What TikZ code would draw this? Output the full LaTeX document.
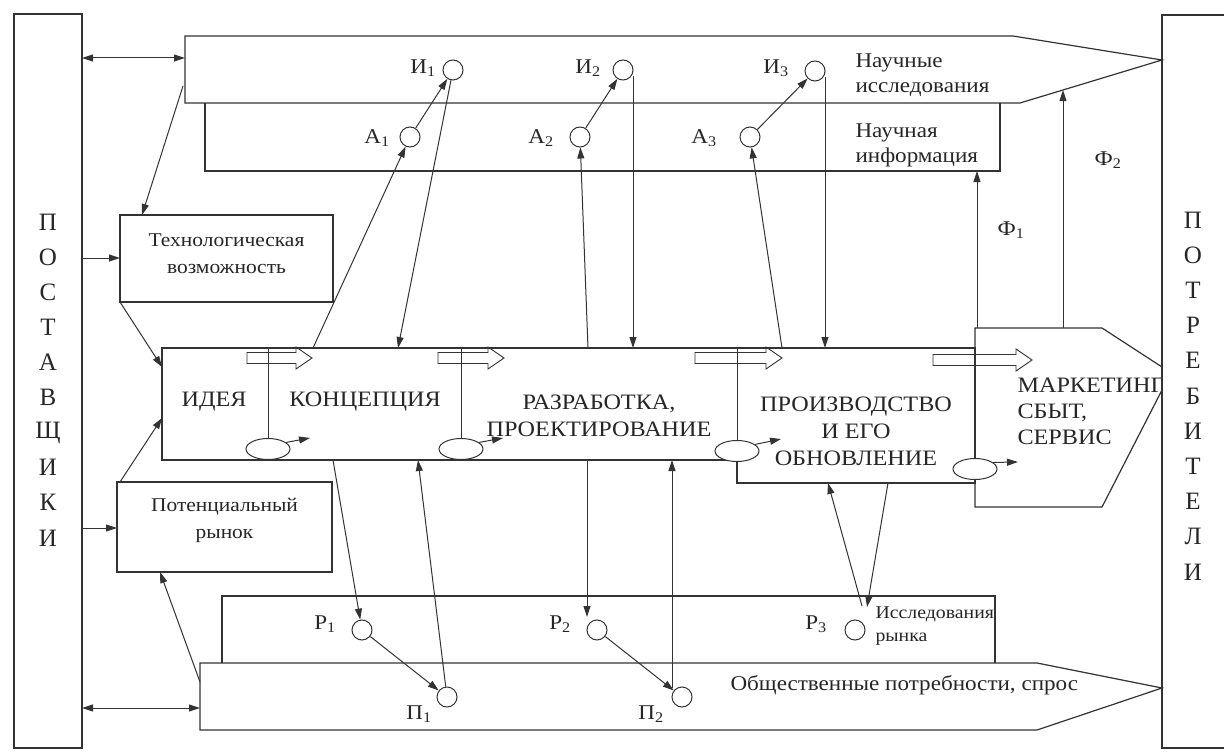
\documentclass[tikz,border=0pt]{standalone}
\usepackage{fontspec}
\setmainfont[FakeStretch=1.1]{Liberation Serif}
\newfontfamily\letterfont{Liberation Serif}
\usetikzlibrary{arrows.meta,shapes.geometric,calc}
\newcommand\hollowarr[3]{\draw[ln,line width=0.9pt] (#1,#3-5.5) -- (#2-16,#3-5.5) -- (#2-16,#3-11) -- (#2,#3) -- (#2-16,#3+11) -- (#2-16,#3+5.5) -- (#1,#3+5.5) -- cycle;}
\begin{document}
\begin{tikzpicture}[x=1pt,y=-1pt,
  ln/.style={draw=black!80,line width=1.2pt},
  arr/.style={draw=black!80,line width=1pt,-{Triangle[length=11pt,width=7pt]}},
  darr/.style={draw=black!80,line width=1pt,{Triangle[length=11pt,width=7pt]}-{Triangle[length=11pt,width=7pt]}},
  box/.style={draw=black!80,line width=1.2pt,rectangle,inner sep=0pt},
  circ/.style={circle,draw=black!80,line width=1pt,minimum size=20pt,inner sep=0pt},
  ell/.style={ellipse,draw=black!80,line width=1pt,minimum width=44pt,minimum height=21pt,inner sep=0pt,fill=white},
  big/.style={font=\fontsize{22}{27}\selectfont, align=center, text=black!85},
  mid/.style={font=\fontsize{19.5}{27}\selectfont, align=center, text=black!85},
  side/.style={font=\fontsize{21}{25}\selectfont, align=left, anchor=west, text=black!85},
  lab/.style={font=\fontsize{21}{24}\selectfont, text=black!85},
  letter/.style={font=\letterfont\fontsize{25}{30}\selectfont, text=black!85},
]
\fill[white] (0,0) rectangle (1224,752);
\useasboundingbox (0,0) rectangle (1224,752);

% suppliers / consumers
\node[box, minimum width=68pt, minimum height=734pt] (sup) at (48,381) {};
\foreach \l [count=\i from 0] in {П,О,С,Т,А,В,Щ,И,К,И}
  \node[letter] (s\i) at (48,222+35.1*\i) {\l};
\draw[ln] (1224,15) -- (1162,15) -- (1162,748) -- (1224,748);
\coordinate (con) at (1162,380);
\foreach \l [count=\i from 0] in {П,О,Т,Р,Е,Б,И,Т,Е,Л,И}
  \node[letter] (c\i) at (1193,220+35.2*\i) {\l};

% top: research pentagon and scientific information
\draw[ln] (185,36) -- (1013,36) -- (1162,60) -- (1020,103) -- (185,103) -- cycle;
\coordinate (res) at (600,70);
\draw[ln] (205,103) -- (205,171) -- (1000,171) -- (1000,103);
\node[side] (restxt) at (852,75) {Научные\\исследования};
\node[side] (inftxt) at (852,145) {Научная\\информация};

% left boxes
\node[box, minimum width=213pt, minimum height=87pt] (tech) at (226.5,258.5) {};
\node[mid] at (226.5,254) {Технологическая\\возможность};
\node[box, minimum width=215pt, minimum height=90pt] (mkt) at (224.5,527) {};
\node[mid] at (224.5,520) {Потенциальный\\рынок};

% main process box
\draw[ln] (162,348) -- (975,348) -- (975,483) -- (737,483) -- (737,460) -- (162,460) -- cycle;
\begin{scope}
\clip (975,328) -- (1102,328) -- (1161,367) -- (1161,390) -- (1102,507) -- (975,507) -- cycle;
\node[big, align=left, anchor=west, font=\fontsize{22}{26}\selectfont] (mark) at (1014,411) {МАРКЕТИНГ,\\СБЫТ,\\СЕРВИС};
\end{scope}
\draw[ln] (975,328) -- (1102,328) -- (1162,367) -- (1162,390) -- (1102,507) -- (975,507) -- cycle;
\draw[ln,line width=1pt] (268,348) -- (268,440);
\draw[ln,line width=1pt] (461,348) -- (461,440);
\draw[ln,line width=1pt] (737,348) -- (737,460);
\hollowarr{247}{312}{358}
\hollowarr{438}{504}{358}
\hollowarr{695}{782}{358}
\hollowarr{933}{1032}{360}

\node[ell] (e1) at (268,449) {};
\node[ell] (e2) at (461,449) {};
\node[ell] (e3) at (737,451) {};
\node[ell] (e4) at (975,469) {};
\coordinate (e1t) at (310,438);
\coordinate (e2t) at (503,438);
\coordinate (e3t) at (781,439);
\coordinate (e4t) at (1018,462);
\draw[arr] (e1.20) -- (e1t);
\draw[arr] (e2.20) -- (e2t);
\draw[arr] (e3.20) -- (e3t);
\draw[arr] (e4.20) -- (e4t);

\node[big] (idea) at (214,402) {ИДЕЯ};
\node[big] (conc) at (365,402) {КОНЦЕПЦИЯ};
\node[big] (dev) at (599,416) {РАЗРАБОТКА,\\ПРОЕКТИРОВАНИЕ};
\node[big] (prod) at (856,431) {ПРОИЗВОДСТВО\\И ЕГО\\ОБНОВЛЕНИЕ};

% bottom: market research and demand
\draw[ln] (222,663) -- (222,596) -- (995,596) -- (995,663);
\draw[ln] (200,663) -- (1037,663) -- (1162,688) -- (1037,730) -- (200,730) -- cycle;
\coordinate (dem) at (600,700);
\node[font=\fontsize{18}{23}\selectfont, align=left, anchor=west, text=black!85] (mrtxt) at (872,626) {Исследования\\рынка};
\node[font=\fontsize{21}{24}\selectfont, anchor=west, text=black!85] (demtxt) at (727,685) {Общественные потребности, спрос};

% circles
\node[circ] (I1) at (453,70) {};
\node[circ] (I2) at (623,70) {};
\node[circ] (I3) at (815,71) {};
\node[circ] (A1) at (410,137) {};
\node[circ] (A2) at (580,137) {};
\node[circ] (A3) at (750,137) {};
\node[circ] (R1) at (362,630) {};
\node[circ] (R2) at (597,630) {};
\node[circ] (R3) at (855,630) {};
\node[circ] (P1) at (447,697) {};
\node[circ] (P2) at (682,697) {};

\node[lab] at (423,68) {И\textsubscript{1}};
\node[lab] at (588,68) {И\textsubscript{2}};
\node[lab] at (776,68) {И\textsubscript{3}};
\node[lab] at (377,138) {А\textsubscript{1}};
\node[lab] at (541,138) {А\textsubscript{2}};
\node[lab] at (704,138) {А\textsubscript{3}};
\node[lab] at (325,624) {Р\textsubscript{1}};
\node[lab] at (560,624) {Р\textsubscript{2}};
\node[lab] at (816,624) {Р\textsubscript{3}};
\node[lab] at (419,714) {П\textsubscript{1}};
\node[lab] at (651,714) {П\textsubscript{2}};
\node[lab] (F1) at (1011,230) {Ф\textsubscript{1}};
\node[lab] (F2) at (1108,160) {Ф\textsubscript{2}};

% named anchor points on the box edges
\coordinate (supA) at (82,58);   \coordinate (resA) at (185,58);
\coordinate (resB) at (183,86);  \coordinate (techT) at (142,215);
\coordinate (supB) at (82,258);  \coordinate (techL) at (120,258);
\coordinate (techB) at (120,302); \coordinate (mainL1) at (162,367);
\coordinate (supC) at (82,528);  \coordinate (mktL) at (117,528);
\coordinate (mktT) at (120,482); \coordinate (mainL2) at (162,418);
\coordinate (supD) at (82,708);  \coordinate (demL) at (200,708);
\coordinate (demT) at (200,682); \coordinate (mktB) at (160,572);
\coordinate (m1) at (313,348); \coordinate (m2) at (398,348);
\coordinate (m3) at (588,348); \coordinate (m4) at (633,348);
\coordinate (m5) at (782,348); \coordinate (m6) at (825,348);
\coordinate (b1) at (333,460); \coordinate (b2) at (418,460);
\coordinate (b3) at (587,460); \coordinate (r2t) at (587,617);
\coordinate (b4) at (672,460); \coordinate (p2t) at (672,688);
\coordinate (i2b) at (633,76); \coordinate (i3b) at (825,77);
\coordinate (pb1) at (828,483); \coordinate (pb2) at (888,483);
\coordinate (r3a) at (862,606); \coordinate (r3b) at (867,607);
\coordinate (mk1) at (977,328); \coordinate (inf) at (977,171);
\coordinate (mk2) at (1063,328); \coordinate (resS) at (1063,90);

% connectors
\draw[darr] (supA) -- (resA);
\draw[arr] (resB) -- (techT);
\draw[arr] (supB) -- (techL);
\draw[arr] (techB) -- (mainL1);
\draw[arr] (supC) -- (mktL);
\draw[arr] (mktT) -- (mainL2);
\draw[darr] (supD) -- (demL);
\draw[arr] (demT) -- (mktB);

\draw[arr] (m1) -- (A1);
\draw[arr] (A1) -- (I1);
\draw[arr] (I1) -- (m2);
\draw[arr] (m3) -- (A2);
\draw[arr] (A2) -- (I2);
\draw[arr] (i2b) -- (m4);
\draw[arr] (m5) -- (A3);
\draw[arr] (A3) -- (I3);
\draw[arr] (i3b) -- (m6);
\draw[arr] (mk1) -- (inf);
\draw[arr] (mk2) -- (resS);

\draw[arr] (b1) -- (R1);
\draw[arr] (P1) -- (b2);
\draw[arr] (b3) -- (r2t);
\draw[arr] (p2t) -- (b4);
\draw[arr] (R1) -- (P1);
\draw[arr] (R2) -- (P2);
\draw[arr] (r3a) -- (pb1);
\draw[arr] (pb2) -- (r3b);
\end{tikzpicture}
\end{document}
